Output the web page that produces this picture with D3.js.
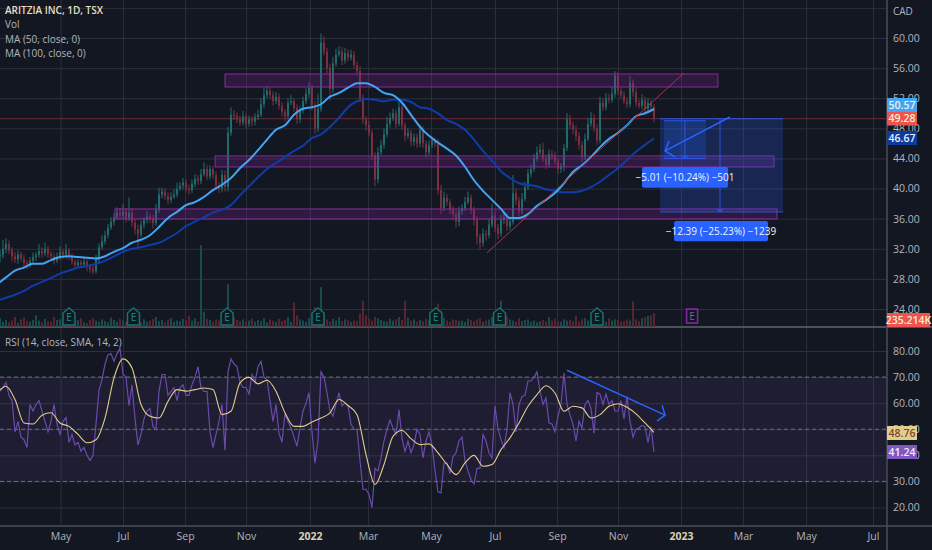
<!DOCTYPE html>
<html>
<head>
<meta charset="utf-8">
<script src="https://cdn.jsdelivr.net/npm/d3@7"></script>
<style>
  body { margin: 0; background: #131722; overflow: hidden; }
  text { font-family: "Open Sans", Roboto, sans-serif; }
  .grid line { stroke: #2c303c; }
  .grid path { display: none; }
  .tag { font-size: 10.5px; text-anchor: middle; font-weight: 600; }
</style>
</head>
<body>
<svg id="chart" width="932" height="550"></svg>
<script>
// x is measured in bar slots, the same way the trading terminal does it
let monthLabels = ["May","Jul","Sep","Nov","2022","Mar","May","Jul","Sep","Nov","2023","Mar","May","Jul"]
let monthBars = [20.2,41,61.7,82,103.3,122.7,143.7,165,185.7,206,227,247.7,268.7,291]
let priceTicks = [64,60,56,52,48,44,40,36,32,28,24]
let rsiTicks = [80,70,60,50,40,30,20]
let earningsBars = [23,44.5,75.7,106,145.3,166.5,199]
let futureEarningsBar = 230.7

let closes = [
31.2,32.0,32.6,31.8,31.0,30.6,31.3,30.7,30.1,29.9,
30.4,30.9,31.2,31.7,31.4,32.0,31.3,31.0,30.4,30.9,
31.6,31.2,31.8,31.0,30.3,29.8,30.2,29.9,30.3,29.6,
29.3,29.0,30.6,32.2,33.0,33.8,34.8,35.6,36.2,36.8,
36.4,36.9,36.1,36.8,35.5,34.6,33.9,35.2,35.8,36.3,
36.0,35.4,37.2,39.2,39.6,39.0,38.5,38.9,39.2,40.0,
40.4,40.8,40.0,39.8,40.6,41.3,41.0,41.9,42.6,41.6,
42.6,41.8,40.4,40.0,41.8,40.2,47.4,49.8,49.6,49.2,
48.8,49.6,48.6,49.2,48.9,49.5,49.8,51.2,52.4,53.0,
52.4,51.6,52.2,51.0,50.2,49.6,51.4,51.6,50.7,49.2,
50.4,51.6,52.6,53.4,51.0,48.0,50.6,59.4,58.2,56.0,
53.2,56.6,57.8,58.2,57.0,58.0,57.4,57.8,56.4,55.6,
52.0,49.2,48.4,47.4,44.4,41.2,44.8,45.8,47.2,48.6,
49.4,50.0,48.6,50.8,48.4,47.0,47.4,46.2,46.8,46.0,
47.8,46.0,44.8,45.8,46.4,46.0,39.8,37.4,38.8,38.2,
37.2,36.6,35.6,37.0,37.4,38.2,38.8,37.2,35.8,33.6,
32.8,34.0,33.8,35.2,36.4,34.8,34.0,35.8,36.2,35.0,
35.6,39.4,38.4,37.0,38.6,40.2,42.0,42.6,44.0,44.8,
45.2,44.0,43.2,44.6,44.4,43.6,42.6,43.0,45.4,49.2,
48.4,47.8,47.0,45.8,44.2,46.6,48.6,49.4,48.0,46.4,
51.4,50.8,52.0,51.8,52.6,55.0,53.0,52.4,51.6,51.2,
54.0,52.8,51.4,51.0,51.8,50.6,51.4,50.9,49.28]

let wickUp = [
.6,1.2,.8,.5,.4,.6,.5,.3,.5,.4, .5,.6,.4,.9,.5,.8,.4,.4,.5,.6,
.7,.4,.8,.3,.4,.3,.4,.3,.5,.3, .3,.4,.6,.5,.8,.6,.5,.6,.5,.7,
.6,1.0,.5,2.0,.6,.5,.6,.5,.4,.7, .4,.5,.8,.9,.5,.4,.5,.6,.7,.8,
.5,.6,.4,.5,.6,.6,.5,.7,.9,.5, .5,.4,.5,.4,.7,.6,.8,1.0,.6,.5,
.5,.7,.4,.5,.4,.5,.7,.8,1.0,.6, .4,.5,.6,.4,.5,.4,.6,.8,.4,.5,
.5,.6,.7,.7,.4,.6,2.0,1.2,.8,.5, .6,.9,.8,.7,.6,.7,.5,.6,.5,.5,
.7,.5,.4,.6,.4,.5,.7,.6,.8,.9, .7,.6,.5,.8,.5,.4,.6,.4,.5,.5,
.7,.5,.4,.6,.5,.4,.6,.7,.8,.5, .4,.5,.5,.6,.5,.7,.8,.4,.4,.5,
.4,.7,.5,.7,1.6,.5,.5,.7,.8,.5, .6,2.4,.6,.5,.8,.7,.6,.6,.6,.8,
.7,.9,.5,.6,.5,.5,.4,.4,.5,.8, .6,.5,.6,.5,.5,.7,.8,.8,.5,.5,
.8,.6,.7,.6,.9,.6,.5,.5,.6,.5, .9,.5,.5,.4,.7,.4,.6,.4,.3]

let wickDown = [
1.0,.5,.6,.5,.7,.5,.6,.4,.5,.6, .4,.3,.5,.4,.6,.4,.5,.4,.5,.3,
.4,.5,.5,.5,.4,.5,.4,.4,.4,.6, .5,.4,.3,.5,.3,.4,.4,.3,.5,.4,
.5,.4,.6,.4,.6,.7,1.7,.4,.5,.4, .6,.7,.3,.4,.5,.5,.6,.4,.3,.4,
.3,.5,.5,.6,.4,.4,.5,.4,.3,.5, .4,.5,.6,.6,.5,.6,.6,.4,.5,.5,
.5,.4,.6,.4,.6,.5,.4,.3,.5,.4, .5,.6,.4,.5,.6,.7,.4,.3,.5,.6,
.5,.4,.4,.5,.6,.7,.5,.4,.5,.7, 1.5,.5,.4,.3,.6,.4,.5,.4,.5,.6,
.5,.6,.7,.5,.6,.9,.5,.4,.5,.4, .5,.4,.6,.3,.6,.7,.4,.6,.5,.6,
.5,.6,.7,.4,.4,.5,.6,.8,.4,.5, .6,.7,.8,.6,.5,.4,.3,.6,.7,1.0,
.9,.5,.7,.4,.4,.6,.7,.4,.5,.6, .5,.4,.6,.7,.4,.3,.4,.5,.4,.4,
.3,.5,.6,.4,.5,.5,.6,.5,.7,.4, .5,.6,.7,.6,.7,.4,.3,.4,.5,.6,
.4,.5,.4,.5,.4,.5,.6,.5,.4,.5, .4,.6,.5,.4,.4,.6,.4,.5,.5]

let volumes = [
150,90,120,80,110,170,70,130,160,100, 90,120,200,110,80,140,100,90,170,120,
130,80,110,100,140,90,120,150,80,70, 120,150,110,90,130,100,80,160,120,90,
140,110,90,180,120,150,100,80,130,90, 110,140,170,100,120,80,130,150,90,110,
100,140,120,190,110,150,90,1400,260,140, 120,90,130,110,160,200,730,280,160,120,
100,130,90,110,140,90,120,100,150,80, 130,110,90,140,100,120,170,90,420,200,
130,110,90,150,120,340,270,680,220,130, 90,140,110,170,100,130,120,90,110,100,
230,450,200,140,110,170,150,120,100,90, 140,110,130,170,120,450,160,110,130,90,
120,100,140,110,170,130,400,280,150,110, 90,130,120,100,110,90,140,120,100,130,
150,90,110,130,170,120,100,450,240,180, 130,110,90,150,100,120,130,90,110,80,
100,120,90,170,110,140,100,90,130,110, 120,100,190,90,130,150,110,120,140,180,
120,100,90,150,110,130,120,90,100,130, 110,440,130,100,150,170,190,200,235.214]

// moving averages and the RSI signal are read at every third bar, starting one bar left of the frame
let ma50 = [
27.3,28.2,29.1,29.5,30.0,30.0,30.5,30.9,31.0,30.9,30.8,30.7,31.0,31.6,32.1,32.8,33.2,33.8,34.9,36.1,
36.9,37.8,38.2,38.9,39.8,40.5,41.4,42.7,43.8,45.1,46.5,47.8,48.4,49.8,50.6,50.8,51.2,52.2,52.7,53.4,
54.0,54.0,53.5,52.7,52.4,51.4,49.8,48.2,47.0,46.1,45.3,44.4,42.9,41.1,39.7,38.5,37.3,36.1,36.1,36.6,
37.7,38.5,39.4,40.7,42.2,43.1,44.2,45.5,46.6,47.4,48.4,49.6,50.0,50.57]
let ma100 = [
25.1,25.5,25.9,26.4,27.1,27.6,28.1,28.7,29.1,29.5,29.7,30.0,30.4,31.0,31.6,32.0,32.2,32.5,32.8,33.4,
34.1,35.0,35.6,36.2,36.8,37.2,37.8,39.1,40.3,41.5,42.6,43.4,44.2,45.0,45.7,46.7,47.2,48.2,49.4,50.8,
51.6,51.9,51.8,51.6,51.8,51.8,51.5,50.8,50.6,50.0,49.1,48.6,47.8,46.5,45.0,43.7,42.3,41.4,40.7,40.5,
40.3,39.9,39.7,39.5,39.5,39.7,40.2,40.9,41.8,42.7,43.8,44.9,45.8,46.67]

let rsi = [
64.6,66,68,63,61,49,53,47,46,43, 59.5,57,59.5,61,57,53,49,53,59.5,52,
48,53,54.5,45,48,44,45,41.6,43,40, 38,40,52,65,69,75,78.5,79,76,79,
81,71,70,59,67,54,44,48,54,57, 58,51,50,64.5,71,71,63,64.5,66,61,
66,67,63,63,67,70,74,66,64.5,64.5, 49,43,48,53,59.5,42,72,77,75,74,
68,66,66,63.5,71,68,74,76,70,69, 61,53,59.5,48.5,45,56,53,50.5,47,43.5,
50.5,57,60,64,49,37,45.5,72,70,64, 57,55,59.5,64,59,60,59,52,50,50,
38,27,27,25,20,35,34,39,45.5,50, 53.5,50.5,48,57.5,46.5,41.5,45.5,41,44,50,
48,39,45.5,49,44,34,26,25.6,37,37, 33,39.5,41,45.5,47,38,34,30.7,29,35,
35,48,45.5,41,39,59,50,46,43,50, 64,59.5,49,59.5,62.5,63,68.5,68.5,70,72,
64.5,59.5,62,52.5,52,49,55,59.5,71.5,59.5, 55.5,52,45.5,53,50.5,59.5,61,58,48.5,64,
63.5,59.5,63.5,59.5,61,57,57,61,54,62.5, 53,47,50,50.5,51.5,51,45,51,41.24]
let rsiSignal = [
63.9,66.5,61.4,52.4,52,55.4,56.3,52.4,51.1,48,44.8,46,54.3,69.7,77,73.5,59.5,55,54.3,60.7,
65.2,64.6,65.2,65.8,65.2,55.6,56.9,67.8,69.9,67.4,68.8,64.6,56.3,51.1,51.1,52.8,54.3,56.3,61.4,59.1,
55.6,40.3,28.8,36.5,47.3,49.5,46.4,44.1,44.4,40.9,36.5,32.6,37.1,40,35.8,36.5,42.2,46.7,52.4,58.8,
63.3,66.7,63.9,56.9,58.8,58.2,54.3,55.6,58.8,59.8,58.4,55.9,52.4,48.76]

// drawings, in bar slots and price
let zones = [
  {from: 75, to: 239.3, top: 55.22, bottom: 53.49},
  {from: 71.7, to: 258, top: 44.33, bottom: 42.87},
  {from: 38.3, to: 259, top: 37.29, bottom: 35.96}
]
let trendLine = [[162.3,31.45],[228,55.35]]
let bigBox = {from: 220, to: 261, top: 49.28, bottom: 36.89, label: "−12.39 (−25.23%) −1239", labelFrom: 224.7, labelTo: 256, labelTop: 35.7, labelBottom: 33}
let smallBox = {from: 221.3, to: 235.3, top: 49.01, bottom: 44.0, label: "−5.01 (−10.24%) −501", labelFrom: 214, labelTo: 242.7, labelTop: 42.87, labelBottom: 40.1}
let priceArrow = [[243.3,49.51],[221.7,45.0]]
let priceArrowHead = [[223,46.32],[221.7,45.0],[225,44.2]]
let rsiArrow = [[189,72.6],[221.7,55.4]]
let rsiArrowHead = [[220.7,59.2],[221.7,55.4],[219,53.1]]

let svg = d3.select("#chart")
let bgColor = "#131722", blue = "#2962ff", upColor = "#22706f", downColor = "#7f3240"

let x = d3.scaleLinear().domain([0, 295.67]).range([0, 887])
let y = d3.scaleLinear().domain([60, 24]).range([38, 309])
let yRsi = d3.scaleLinear().domain([80, 20]).range([351, 507.5])
let yVol = d3.scaleLinear().domain([0, 1400]).range([327, 245])
let maBar = i => i * 3 - 1

// grid and axes
let xAxis = svg.append("g").attr("class", "grid").attr("transform", "translate(0,526)")
  .call(d3.axisBottom(x).tickValues(monthBars).tickSize(-526).tickPadding(7)
    .tickFormat((d, i) => monthLabels[i]))
xAxis.selectAll("text").attr("fill", d => (d === 103.3 || d === 227) ? "#d8d2b4" : "#b2b5be")
  .style("font-size", "10.5px").style("font-weight", d => (d === 103.3 || d === 227) ? 700 : 400)

let priceAxis = svg.append("g").attr("class", "grid").attr("transform", "translate(887,0)")
  .call(d3.axisRight(y).tickValues(priceTicks).tickSize(-887).tickPadding(6).tickFormat(d3.format(".2f")))
let rsiAxis = svg.append("g").attr("class", "grid").attr("transform", "translate(887,0)")
  .call(d3.axisRight(yRsi).tickValues(rsiTicks).tickSize(-887).tickPadding(6).tickFormat(d3.format(".2f")))
svg.selectAll(".grid text").filter(function () { return this.getAttribute("x") }).attr("fill", "#b2b5be")
priceAxis.selectAll("text").style("font-size", "10.5px").filter(d => d === 64).remove()
rsiAxis.selectAll("text").style("font-size", "10.5px")

// rsi band and levels
svg.append("rect").attr("x", 0).attr("width", x(295.67))
  .attr("y", yRsi(70)).attr("height", yRsi(30) - yRsi(70)).attr("fill", "rgba(126,87,194,.1)")
svg.selectAll(".level").data([70, 50, 30]).join("line")
  .attr("x1", 0).attr("x2", 887).attr("y1", d => yRsi(d)).attr("y2", d => yRsi(d))
  .attr("stroke", "#6d7080").attr("stroke-dasharray", "4 3")

// pane frames
svg.append("line").attr("x1", 0).attr("x2", 932).attr("y1", 327).attr("y2", 327).attr("stroke", "#61646e").attr("stroke-width", 1.5)
svg.append("line").attr("x1", 0).attr("x2", 932).attr("y1", 526).attr("y2", 526).attr("stroke", "#4a4e59").attr("stroke-width", 1.5)
svg.append("line").attr("x1", 887).attr("x2", 887).attr("y1", 0).attr("y2", 550).attr("stroke", "#4a4e59").attr("stroke-width", 1.5)

// volume
let isUp = i => closes[i] >= (i ? closes[i - 1] : closes[i])
svg.append("g").selectAll("rect").data(volumes).join("rect")
  .attr("x", (d, i) => x(i) - 0.9).attr("width", 1.8)
  .attr("y", d => yVol(d)).attr("height", d => yVol(0) - yVol(d))
  .attr("fill", (d, i) => isUp(i) ? "#1c5150" : "#5f2733")

// earnings flags
let flag = d3.line()
let flags = svg.append("g").selectAll("g").data(earningsBars).join("g")
  .attr("transform", d => `translate(${x(d)},0)`)
flags.append("path")
  .attr("d", flag([[-6,313],[0,308],[6,313],[6,325],[-6,325]]) + "Z")
  .attr("fill", "#131722").attr("stroke", "#12756f").attr("stroke-width", 1.5)
flags.append("text").attr("y", 321).attr("text-anchor", "middle")
  .attr("fill", "#169086").style("font-size", "10px").text("E")
svg.append("rect").attr("x", x(futureEarningsBar) - 5.5).attr("y", 309).attr("width", 11).attr("height", 14)
  .attr("fill", "none").attr("stroke", "#8e24aa").attr("stroke-width", 1.5)
svg.append("text").attr("x", x(futureEarningsBar)).attr("y", 320).attr("text-anchor", "middle")
  .attr("fill", "#8e5ba0").style("font-size", "10px").text("E")

// last price line
svg.append("line").attr("x1", 0).attr("x2", 887).attr("y1", y(49.28)).attr("y2", y(49.28)).attr("stroke", "#6a2a36")

// candles
let candles = svg.append("g").selectAll("g").data(closes).join("g")
candles.append("line")
  .attr("x1", (d, i) => x(i)).attr("x2", (d, i) => x(i))
  .attr("y1", (d, i) => y(Math.max(d, i ? closes[i - 1] : d) + wickUp[i]))
  .attr("y2", (d, i) => y(Math.min(d, i ? closes[i - 1] : d) - wickDown[i]))
  .attr("stroke", (d, i) => isUp(i) ? upColor : downColor)
candles.append("rect")
  .attr("x", (d, i) => x(i) - 0.9).attr("width", 1.8)
  .attr("y", (d, i) => y(Math.max(d, i ? closes[i - 1] : d)))
  .attr("height", (d, i) => Math.max(1, Math.abs(y(d) - y(i ? closes[i - 1] : d))))
  .attr("fill", (d, i) => isUp(i) ? upColor : downColor)

// zones
svg.append("g").selectAll("rect").data(zones).join("rect")
  .attr("x", d => x(d.from)).attr("width", d => x(d.to) - x(d.from))
  .attr("y", d => y(d.top)).attr("height", d => y(d.bottom) - y(d.top))
  .attr("fill", "rgba(156,39,176,.2)").attr("stroke", "#8a2a9c")

// moving averages
let priceLine = d3.line().x((d, i) => x(maBar(i))).y(d => y(d)).curve(d3.curveMonotoneX)
svg.append("path").attr("d", priceLine(ma100)).attr("fill", "none").attr("stroke", "#0f3ca8").attr("stroke-width", 2)
svg.append("path").attr("d", priceLine(ma50)).attr("fill", "none").attr("stroke", "#42a5f5").attr("stroke-width", 2)

// drawings on the price pane
let drawLine = d3.line().x(d => x(d[0])).y(d => y(d[1]))
svg.append("path").attr("d", drawLine(trendLine)).attr("fill", "none").attr("stroke", "#a23a48")

let boxes = svg.append("g").selectAll("g").data([bigBox, smallBox]).join("g")
boxes.append("rect")
  .attr("x", d => x(d.from)).attr("width", d => x(d.to) - x(d.from))
  .attr("y", d => y(d.top)).attr("height", d => y(d.bottom) - y(d.top))
  .attr("fill", "rgba(41,98,255,.22)")
boxes.selectAll(".edge").data(d => [[d, d.top], [d, d.bottom]]).join("line")
  .attr("x1", d => x(d[0].from)).attr("x2", d => x(d[0].to)).attr("y1", d => y(d[1])).attr("y2", d => y(d[1]))
  .attr("stroke", blue).attr("stroke-opacity", .8)
boxes.append("line")
  .attr("x1", d => x((d.from + d.to) / 2 + (d === bigBox ? -0.5 : 0))).attr("x2", d => x((d.from + d.to) / 2 + (d === bigBox ? -0.5 : 0)))
  .attr("y1", d => y(d.top)).attr("y2", d => y(d.bottom)).attr("stroke", blue).attr("stroke-opacity", .8)
boxes.append("path")
  .attr("d", d => {
    let cx = x((d.from + d.to) / 2 + (d === bigBox ? -0.5 : 0)), by = y(d.bottom)
    return d3.line()([[cx - 3, by - 3], [cx, by], [cx + 3, by - 3]])
  })
  .attr("fill", "none").attr("stroke", blue)
boxes.append("rect")
  .attr("x", d => x(d.labelFrom)).attr("width", d => x(d.labelTo) - x(d.labelFrom))
  .attr("y", d => y(d.labelTop)).attr("height", d => y(d.labelBottom) - y(d.labelTop))
  .attr("rx", 2).attr("fill", blue)
boxes.append("text")
  .attr("x", d => x((d.labelFrom + d.labelTo) / 2)).attr("y", d => (y(d.labelTop) + y(d.labelBottom)) / 2 + 3.5)
  .attr("text-anchor", "middle").attr("fill", "#f0f3fa").style("font-size", "10px").text(d => d.label)

svg.append("path").attr("d", drawLine(priceArrow)).attr("fill", "none").attr("stroke", blue).attr("stroke-width", 1.5)
svg.append("path").attr("d", drawLine(priceArrowHead)).attr("fill", "none").attr("stroke", blue).attr("stroke-width", 1.5)

// rsi pane
let rsiLine = d3.line().x((d, i) => x(i)).y(d => yRsi(d))
let signalLine = d3.line().x((d, i) => x(maBar(i))).y(d => yRsi(d)).curve(d3.curveMonotoneX)
svg.append("path").attr("d", rsiLine(rsi)).attr("fill", "none").attr("stroke", "#6a4bab").attr("stroke-width", 1.2)
svg.append("path").attr("d", signalLine(rsiSignal)).attr("fill", "none").attr("stroke", "#e3cd8c").attr("stroke-width", 1.1)
let rsiDraw = d3.line().x(d => x(d[0])).y(d => yRsi(d[1]))
svg.append("path").attr("d", rsiDraw(rsiArrow)).attr("fill", "none").attr("stroke", blue).attr("stroke-width", 1.5)
svg.append("path").attr("d", rsiDraw(rsiArrowHead)).attr("fill", "none").attr("stroke", blue).attr("stroke-width", 1.5)

// legends
let legend = [["ARITZIA INC, 1D, TSX", 14, "#e6dfc4", 600], ["Vol", 28, "#b2b5be", 400],
  ["MA (50, close, 0)", 43, "#b2b5be", 400], ["MA (100, close, 0)", 57, "#b2b5be", 400],
  ["RSI (14, close, SMA, 14, 2)", 346, "#b2b5be", 400]]
svg.append("g").selectAll("text").data(legend).join("text")
  .attr("x", 5).attr("y", d => d[1]).attr("fill", d => d[2])
  .style("font-weight", d => d[3]).style("font-size", "10px").text(d => d[0])
svg.append("text").attr("x", 893).attr("y", 15).attr("fill", "#b2b5be").style("font-size", "10px").text("CAD")

// price tags on the right
let tags = [
  {text: "50.57", top: 98, h: 14, w: 30, fill: "#42a5f5", color: "#f4f0d8"},
  {text: "49.28", top: 112, h: 13.5, w: 30, fill: "#ef5350", color: "#f6f0c8"},
  {text: "46.67", top: 131, h: 14, w: 30, fill: "#0d3a9e", color: "#e8eefc"},
  {text: "235.214K", top: 313, h: 14, w: 43, fill: "#ef5350", color: "#f6f0c8"},
  {text: "48.76", top: 426, h: 14, w: 30, fill: "#e3cd8c", color: "#7a4a30"},
  {text: "41.24", top: 445, h: 14, w: 30, fill: "#7e57c2", color: "#f4f0e0"}
]
let tagGroup = svg.append("g").selectAll("g").data(tags).join("g")
tagGroup.append("rect").attr("x", 887).attr("y", d => d.top).attr("width", d => d.w).attr("height", d => d.h).attr("fill", d => d.fill)
tagGroup.append("text").attr("class", "tag").attr("x", d => 887 + d.w / 2).attr("y", d => d.top + d.h / 2 + 3.5)
  .attr("fill", d => d.color).text(d => d.text)
</script>
</body>
</html>
